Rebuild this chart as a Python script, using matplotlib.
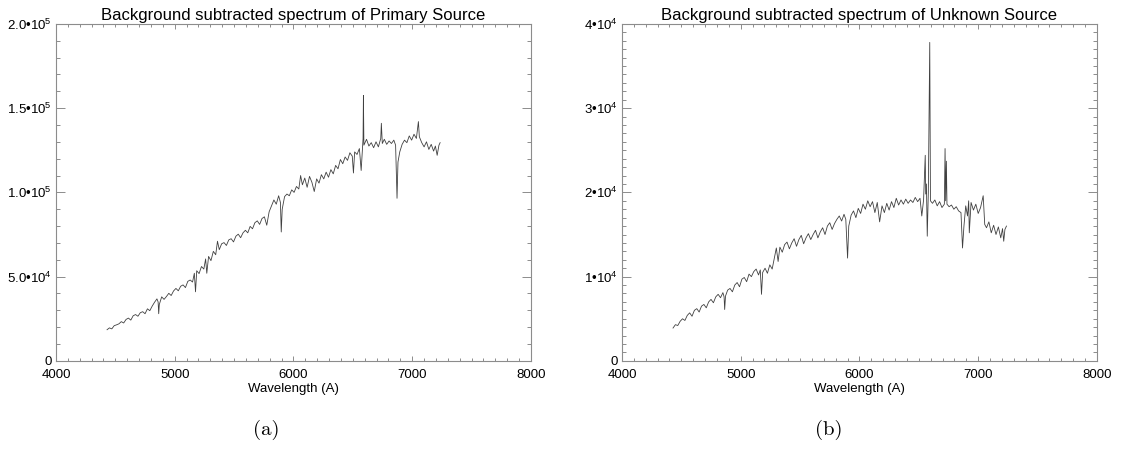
import matplotlib
matplotlib.use("Agg")
import matplotlib.pyplot as plt
from matplotlib.ticker import MultipleLocator

plt.rcParams['font.family'] = ['Liberation Sans', 'DejaVu Sans']
plt.rcParams['mathtext.fontset'] = 'custom'
plt.rcParams['mathtext.rm'] = 'Liberation Sans'
plt.rcParams['mathtext.it'] = 'Liberation Sans:italic'
plt.rcParams['mathtext.bf'] = 'Liberation Sans:bold'

# --- Primary source spectrum (flux in units of 1e3) ---
wl_a = [4430, 4450, 4470, 4490, 4510, 4530, 4550, 4570, 4590, 4610, 4630, 4650,
        4670, 4690, 4710, 4730, 4750, 4770, 4790, 4810, 4830, 4850, 4860, 4865,
        4870, 4890, 4910, 4930, 4950, 4970, 4990, 5010, 5030, 5050, 5070, 5090,
        5110, 5130, 5150, 5165, 5175, 5185, 5205, 5225, 5245, 5260, 5270, 5285,
        5305, 5325, 5345, 5360, 5375, 5395, 5415, 5435, 5455, 5475, 5495, 5515,
        5535, 5555, 5575, 5595, 5615, 5635, 5655, 5675, 5695, 5715, 5735, 5755,
        5775, 5795, 5815, 5835, 5855, 5875, 5890, 5897, 5905, 5925, 5945, 5965,
        5985, 6005, 6025, 6045, 6060, 6075, 6095, 6115, 6135, 6155, 6175, 6195,
        6215, 6235, 6255, 6275, 6295, 6315, 6335, 6355, 6375, 6395, 6415, 6435,
        6455, 6475, 6495, 6505, 6515, 6535, 6555, 6570, 6580, 6586, 6589, 6593,
        6615, 6635, 6655, 6675, 6695, 6715, 6735, 6740, 6748, 6765, 6785, 6805,
        6825, 6845, 6860, 6872, 6880, 6895, 6915, 6935, 6955, 6975, 6995, 7015,
        7035, 7052, 7060, 7080, 7100, 7120, 7140, 7160, 7180, 7195, 7210, 7225,
        7235]
flux_a = [18.5, 19.6, 19.0, 20.9, 21.4, 22.0, 23.3, 22.5, 24.6, 25.4, 24.2, 26.8,
          27.5, 26.5, 28.6, 29.2, 28.0, 30.9, 29.8, 32.5, 34.8, 36.8, 35.0, 28.0,
          33.5, 38.0, 36.5, 38.2, 40.1, 38.8, 41.5, 43.0, 41.6, 44.3, 45.1, 43.5,
          47.2, 48.0, 46.8, 52.0, 41.0, 53.5, 51.8, 56.0, 54.5, 60.5, 52.0, 62.0,
          59.5, 65.0, 63.0, 71.0, 66.0, 69.5, 70.2, 68.5, 71.8, 72.5, 70.6, 74.0,
          75.2, 73.1, 76.0, 77.5, 76.0, 79.8, 78.4, 82.0, 83.1, 81.0, 84.5, 85.5,
          80.5, 88.5, 92.0, 95.5, 93.0, 98.0, 94.0, 76.5, 90.0, 97.5, 99.0, 98.0,
          101.5, 100.0, 103.5, 102.0, 110.0, 104.5, 108.5, 103.0, 109.5, 106.0, 100.5, 108.0,
          105.5, 110.5, 108.0, 112.0, 109.0, 113.5, 111.0, 116.0, 114.0, 119.5, 117.0, 121.0,
          119.0, 123.5, 121.5, 111.5, 124.0, 122.5, 126.0, 113.0, 125.0, 132.0, 157.5, 128.0,
          131.5, 127.5, 129.5, 126.5, 130.0, 127.0, 132.0, 141.0, 129.0, 131.5, 128.5, 130.5,
          129.0, 131.0, 128.0, 96.5, 118.0, 124.0, 128.5, 131.0, 129.5, 133.5, 131.0, 134.5,
          132.0, 142.0, 133.0, 129.5, 127.0, 130.0, 125.5, 128.5, 124.5, 127.5, 122.0, 128.0,
          129.5]

# --- Unknown source spectrum (flux in units of 1e3) ---
wl_b = [4430, 4450, 4470, 4490, 4510, 4530, 4550, 4570, 4590, 4610, 4630, 4650,
        4670, 4690, 4710, 4730, 4750, 4770, 4790, 4810, 4830, 4850, 4860, 4865,
        4872, 4890, 4910, 4930, 4950, 4970, 4990, 5010, 5030, 5050, 5070, 5090,
        5110, 5130, 5150, 5165, 5175, 5185, 5205, 5225, 5245, 5265, 5285, 5300,
        5315, 5330, 5350, 5370, 5390, 5410, 5430, 5450, 5470, 5490, 5510, 5530,
        5550, 5570, 5590, 5610, 5630, 5650, 5670, 5690, 5710, 5730, 5750, 5770,
        5790, 5810, 5830, 5850, 5870, 5885, 5900, 5910, 5930, 5950, 5970, 5990,
        6010, 6030, 6050, 6070, 6090, 6110, 6130, 6150, 6170, 6190, 6210, 6230,
        6250, 6270, 6290, 6310, 6330, 6350, 6370, 6390, 6410, 6430, 6450, 6470,
        6490, 6510, 6525, 6540, 6554, 6558, 6564, 6571, 6580, 6592, 6598, 6615,
        6635, 6655, 6675, 6695, 6715, 6721, 6726, 6732, 6737, 6755, 6775, 6795,
        6815, 6835, 6855, 6868, 6880, 6895, 6910, 6920, 6925, 6940, 6960, 6980,
        7000, 7020, 7042, 7055, 7070, 7090, 7110, 7130, 7150, 7170, 7190, 7205,
        7215, 7225, 7238]
flux_b = [3.9, 4.3, 4.2, 4.7, 5.0, 4.8, 5.4, 5.7, 5.3, 6.0, 6.2, 5.8,
          6.5, 6.7, 6.3, 7.0, 7.3, 6.9, 7.6, 7.9, 7.5, 8.1, 7.6, 6.1,
          7.7, 8.4, 8.6, 8.2, 9.0, 9.3, 8.8, 9.7, 9.9, 9.4, 10.3, 10.0,
          10.6, 10.9, 10.2, 10.8, 7.9, 10.5, 11.0, 10.4, 11.4, 10.9, 12.3, 13.4,
          11.8, 13.5, 12.9, 13.8, 14.1, 13.3, 14.0, 14.5, 13.6, 14.4, 14.9, 13.9,
          14.6, 15.1, 14.4, 15.0, 15.5, 14.6, 15.3, 15.8, 15.0, 16.0, 16.4, 15.6,
          16.3, 16.8, 17.2, 16.6, 17.4, 16.8, 12.2, 16.0, 17.3, 17.8, 17.0, 18.1,
          17.5, 18.6, 18.0, 19.0, 18.3, 18.9, 17.6, 18.8, 16.5, 18.4, 17.6, 18.7,
          17.9, 18.9, 18.2, 19.3, 18.5, 19.1, 18.6, 19.2, 18.7, 19.1, 18.8, 19.4,
          18.9, 19.3, 17.2, 19.1, 24.4, 19.8, 21.0, 14.8, 20.0, 37.8, 19.0, 18.7,
          19.1, 18.4, 18.9, 18.2, 18.6, 25.2, 19.0, 23.7, 18.6, 18.3, 18.5, 18.0,
          18.3, 17.8, 17.6, 13.4, 16.0, 18.4, 17.2, 19.0, 15.2, 18.8, 17.9, 18.6,
          17.5, 18.2, 19.6, 16.2, 15.8, 16.5, 15.2, 16.1, 15.0, 15.9, 14.6, 15.7,
          14.2, 15.6, 16.0]

titles = ["Background subtracted spectrum of Primary Source",
          "Background subtracted spectrum of Unknown Source"]
captions = ["(a)", "(b)"]
caption_x = [0.236, 0.734]  # figure fraction, centre of each caption

x_ticks = [4000, 5000, 6000, 7000, 8000]
x_tick_labels = ["4000", "5000", "6000", "7000", "8000"]

y_ticks_a = [0, 5.0e4, 1.0e5, 1.5e5, 2.0e5]
y_labels_a = ["0", "5.0\u202210$^{4}$", "1.0\u202210$^{5}$",
              "1.5\u202210$^{5}$", "2.0\u202210$^{5}$"]
y_ticks_b = [0, 1e4, 2e4, 3e4, 4e4]
y_labels_b = ["0", "1\u202210$^{4}$", "2\u202210$^{4}$",
              "3\u202210$^{4}$", "4\u202210$^{4}$"]

fig = plt.figure(figsize=(11.29, 4.5), dpi=100)
ax_a = fig.add_axes([0.0496, 0.198, 0.4207, 0.749])
ax_b = fig.add_axes([0.5509, 0.198, 0.4207, 0.749])

panels = [
    (ax_a, wl_a, flux_a, y_ticks_a, y_labels_a, 2.0e5, 1.0e4),
    (ax_b, wl_b, flux_b, y_ticks_b, y_labels_b, 4.0e4, 1.0e3),
]

axis_grey = "#8c8c8c"

for i, (ax, wl, fl, yt, yl, ymax, yminor) in enumerate(panels):
    ax.plot(wl, [v * 1000 for v in fl], color="#404040", linewidth=0.6)
    ax.set_xlim(4000, 8000)
    ax.set_ylim(0, ymax)
    ax.set_xticks(x_ticks)
    ax.set_xticklabels(x_tick_labels)
    ax.set_yticks(yt)
    ax.set_yticklabels(yl)
    ax.xaxis.set_minor_locator(MultipleLocator(100))
    ax.yaxis.set_minor_locator(MultipleLocator(yminor))

    for s in ax.spines.values():
        s.set_color(axis_grey)
        s.set_linewidth(0.8)
    ax.tick_params(which="both", direction="in", top=True, right=True,
                   color=axis_grey, width=0.7, labelsize=9.5)
    ax.tick_params(axis="x", which="major", length=3.6, pad=6)
    ax.tick_params(axis="x", which="minor", length=2.0)
    ax.tick_params(axis="y", which="major", length=6.5, pad=3)
    ax.tick_params(axis="y", which="minor", length=3.0)

    ax.set_title(titles[i], fontsize=12, pad=3)
    ax.set_xlabel("Wavelength (A)", fontsize=9.5, labelpad=1)

    # sub-figure caption below each panel
    fig.text(caption_x[i], 0.045, captions[i], ha="center", va="center",
             fontsize=15, family="cmr10")

fig.savefig("out.png", dpi=100)
